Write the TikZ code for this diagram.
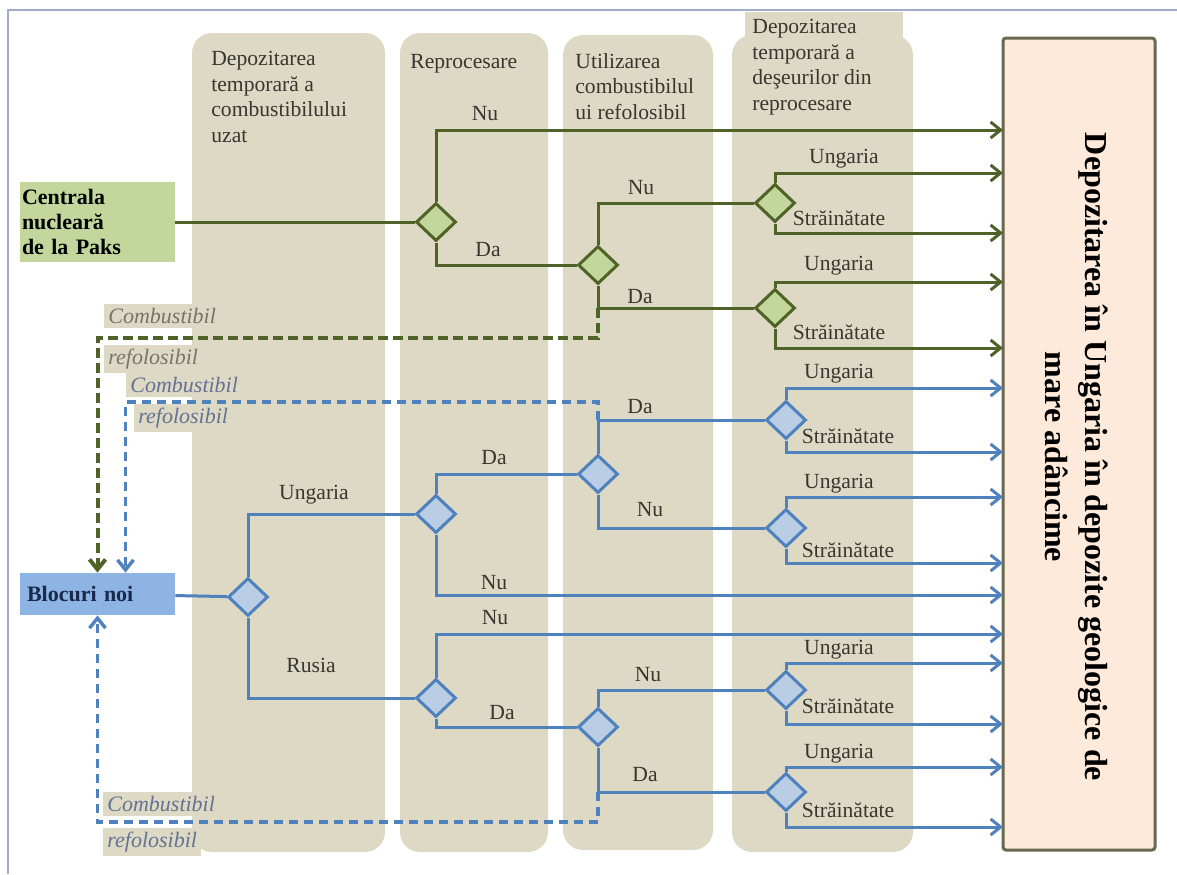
\documentclass[tikz,border=0pt]{standalone}
\usepackage{fontspec}
\setmainfont{Liberation Serif}
\usetikzlibrary{shapes.geometric}
\usetikzlibrary{arrows.meta}

\definecolor{colbg}{RGB}{221,217,196}
\definecolor{gdark}{RGB}{79,98,40}
\definecolor{gfill}{RGB}{195,214,155}
\definecolor{bdark}{RGB}{79,129,189}
\definecolor{bfill}{RGB}{185,205,229}
\definecolor{bbox}{RGB}{141,180,226}
\definecolor{pfill}{RGB}{253,234,218}
\definecolor{pdraw}{RGB}{105,105,80}
\definecolor{htext}{RGB}{55,55,48}
\definecolor{gital}{RGB}{118,118,100}
\definecolor{bital}{RGB}{100,114,148}
\definecolor{framec}{RGB}{160,172,200}

\begin{document}
\begin{tikzpicture}[x=0.5pt,y=-0.5pt,
    font=\fontsize{10.8}{12.8}\selectfont,
    colbox/.style={fill=colbg,rounded corners=10pt},
    head/.style={anchor=north west,align=left,inner sep=0pt,text=htext},
    src/.style={rectangle,align=left,minimum height=#1,inner ysep=0pt,font=\fontsize{11}{12.3}\selectfont\bfseries},
    repo/.style={rectangle,rounded corners=1.5pt,fill=pfill,draw=pdraw,line width=1.5pt,minimum width=76pt,minimum height=406pt},
    gdec/.style={diamond,draw=gdark,fill=gfill,line width=1.5pt,inner sep=0pt,minimum width=20pt,minimum height=19pt},
    bdec/.style={diamond,draw=bdark,fill=bfill,line width=1.5pt,inner sep=0pt,minimum width=20pt,minimum height=19pt},
    lbl/.style={inner sep=1pt,text=htext},
    reuse/.style={anchor=west,fill=colbg,inner sep=2pt,font=\fontsize{11}{12}\selectfont\itshape},
    garr/.style={draw=gdark,line width=1.5pt,-{Straight Barb[length=5pt,width=8pt]}},
    barr/.style={draw=bdark,line width=1.5pt,-{Straight Barb[length=5pt,width=8pt]}},
    gline/.style={draw=gdark,line width=1.5pt},
    bline/.style={draw=bdark,line width=1.5pt},
    gret/.style={draw=gdark,line width=2pt,dash pattern=on 5pt off 2.5pt,-{Straight Barb[length=5pt,width=8pt]}},
    bret/.style={draw=bdark,line width=1.7pt,dash pattern=on 4.5pt off 3pt,-{Straight Barb[length=5pt,width=8pt]}}
    ]
    \useasboundingbox (0,0) rectangle (1177,874);
    \draw[framec,line width=1pt] (8,874) -- (8,10) -- (1177,10);

    \fill[colbox] (192,33) rectangle (385,852);
    \fill[colbox] (400,33) rectangle (548,852);
    \fill[colbox] (563,35) rectangle (713,850);
    \fill[colbox] (732,35) rectangle (913,852);
    \fill[colbg] (745,12) rectangle (903,60);

    \node[head] (h1) at (211,51) {Depozitarea\\temporară a\\combustibilului\\uzat};
    \node[head] (h2) at (410,54) {Reprocesare};
    \node[head] (h3) at (575,53) {Utilizarea\\combustibilul\\ui refolosibil};
    \node[head] (h4) at (752,19) {Depozitarea\\temporară a\\deşeurilor din\\reprocesare};

    \node[src=40pt,fill=gfill,text width=75.5pt,inner xsep=1pt] (paks) at (97.5,222) {Centrala\\nucleară\\de la Paks};
    \node[src=21pt,fill=bbox,text width=70.5pt,inner xsep=3.5pt,text={rgb,255:red,25;green,40;blue,75}] (blocuri) at (97.5,594) {Blocuri noi};

    \node[repo] (depo) at (1079,444) {};
    \node[rotate=-90,align=center,font=\fontsize{16}{20}\selectfont\bfseries] (depotxt) at (1077,457) {Depozitarea în Ungaria în depozite geologice de\\mare adâncime};

    \node[reuse,text=gital] (gc1) at (104,316) {Combustibil};
    \node[reuse,text=gital] (gc2) at (104,359) {refolosibil};
    \node[reuse,text=bital] (bc1) at (126,385) {Combustibil};
    \node[reuse,text=bital] (bc2) at (134,418) {refolosibil};
    \node[reuse,text=bital] (bc3) at (103,804) {Combustibil};
    \node[reuse,text=bital] (bc4) at (103,842) {refolosibil};

    \node[gdec] (d1) at (436,222) {};
    \node[gdec] (d2) at (598,265) {};
    \node[gdec] (d3) at (775,203) {};
    \node[gdec] (d4) at (775,308) {};
    \node[bdec] (b1) at (248,597) {};
    \node[bdec] (b2) at (436,514) {};
    \node[bdec] (b3) at (436,698) {};
    \node[bdec] (b4) at (598,474) {};
    \node[bdec] (b5) at (786,420) {};
    \node[bdec] (b6) at (786,528) {};
    \node[bdec] (b7) at (598,727) {};
    \node[bdec] (b8) at (786,690) {};
    \node[bdec] (b9) at (786,792) {};

    \coordinate (g1) at (1003,130);
    \coordinate (g2) at (1003,173);
    \coordinate (g3) at (1003,233);
    \coordinate (g4) at (1003,282);
    \coordinate (g5) at (1003,348);
    \coordinate (u1) at (1003,388);
    \coordinate (u2) at (1003,452);
    \coordinate (u3) at (1003,497);
    \coordinate (u4) at (1003,563);
    \coordinate (u5) at (1003,595);
    \coordinate (u6) at (1003,634);
    \coordinate (u7) at (1003,663);
    \coordinate (u8) at (1003,724);
    \coordinate (u9) at (1003,767);
    \coordinate (u10) at (1003,827);

    \draw[gret] (d4.west -| d2) -- ++(0,30) -| (blocuri.north);
    \draw[bret] (b5.west -| b4) -- ++(0,-18) -| ([xshift=14pt]blocuri.north);
    \draw[bret] (b9.west -| b7) -- ++(0,30) -| (blocuri.south);

    \draw[gline] (paks) -- (d1);
    \draw[garr] (d1.north) |- (g1);
    \draw[gline] (d1.south) |- (d2.west);
    \draw[gline] (d2.north) |- (d3.west);
    \draw[gline] (d2.south) |- (d4.west);
    \draw[garr] (d3.north) |- (g2);
    \draw[garr] (d3.south) |- (g3);
    \draw[garr] (d4.north) |- (g4);
    \draw[garr] (d4.south) |- (g5);

    \draw[bline] (blocuri) -- (b1);
    \draw[bline] (b1.north) |- (b2.west);
    \draw[bline] (b1.south) |- (b3.west);
    \draw[bline] (b2.north) |- (b4.west);
    \draw[barr] (b2.south) |- (u5);
    \draw[bline] (b4.north) |- (b5.west);
    \draw[bline] (b4.south) |- (b6.west);
    \draw[barr] (b3.north) |- (u6);
    \draw[bline] (b3.south) |- (b7.west);
    \draw[bline] (b7.north) |- (b8.west);
    \draw[bline] (b7.south) |- (b9.west);
    \draw[barr] (b5.north) |- (u1);
    \draw[barr] (b5.south) |- (u2);
    \draw[barr] (b6.north) |- (u3);
    \draw[barr] (b6.south) |- (u4);
    \draw[barr] (b8.north) |- (u7);
    \draw[barr] (b8.south) |- (u8);
    \draw[barr] (b9.north) |- (u9);
    \draw[barr] (b9.south) |- (u10);

    \node[lbl] at (485,114) {Nu};
    \node[lbl] at (488,250) {Da};
    \node[lbl] at (641,188) {Nu};
    \node[lbl] at (640,297) {Da};
    \node[lbl] at (314,495) {Ungaria};
    \node[lbl] at (311,665) {Rusia};
    \node[lbl] at (494,458) {Da};
    \node[lbl] at (494,583) {Nu};
    \node[lbl] at (640,407) {Da};
    \node[lbl] at (650,510) {Nu};
    \node[lbl] at (495,618) {Nu};
    \node[lbl] at (502,713) {Da};
    \node[lbl] at (648,675) {Nu};
    \node[lbl] at (645,775) {Da};

    \node[lbl] at (844,159) {Ungaria};
    \node[lbl] at (839,218) {Străinătate};
    \node[lbl] at (839,266) {Ungaria};
    \node[lbl] at (839,332) {Străinătate};
    \node[lbl] at (839,374) {Ungaria};
    \node[lbl] at (848,436) {Străinătate};
    \node[lbl] at (839,484) {Ungaria};
    \node[lbl] at (848,550) {Străinătate};
    \node[lbl] at (839,650) {Ungaria};
    \node[lbl] at (848,706) {Străinătate};
    \node[lbl] at (839,754) {Ungaria};
    \node[lbl] at (848,810) {Străinătate};
\end{tikzpicture}
\end{document}
